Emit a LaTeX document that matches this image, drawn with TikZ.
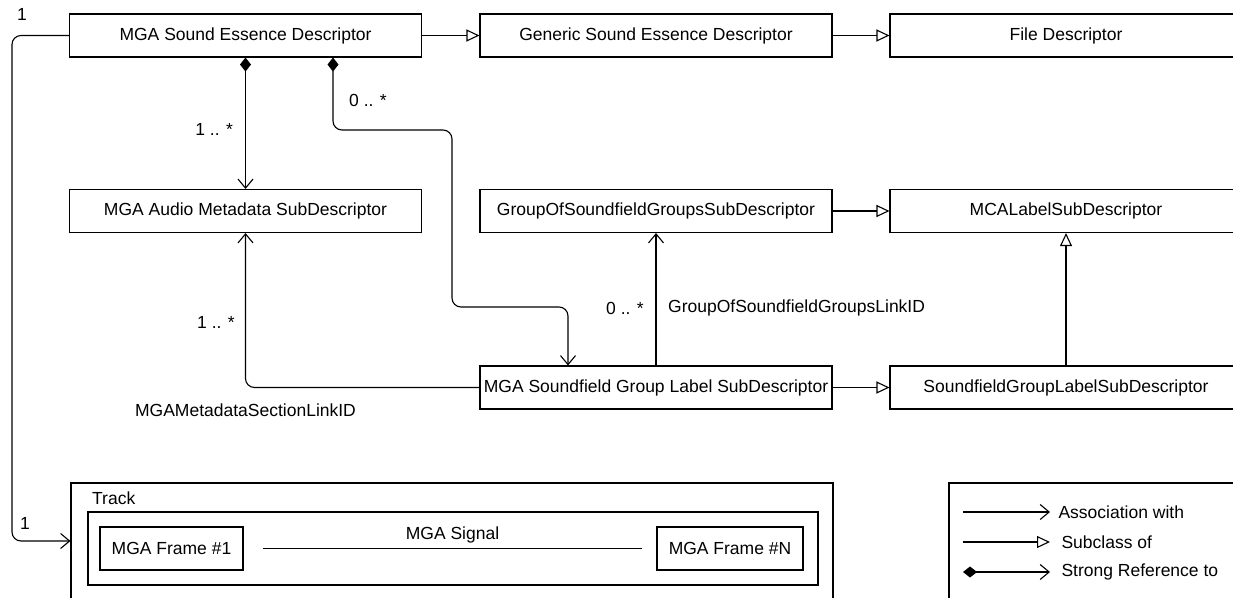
\documentclass[tikz,border=0pt]{standalone}
\usepackage{fontspec}
\setmainfont{Liberation Sans}
\usetikzlibrary{positioning,calc,arrows.meta}
\definecolor{umlline}{HTML}{000000}

\begin{document}
\begin{tikzpicture}[x=1pt, y=-1pt,
  block/.style={rectangle, draw=umlline, line width=1.1pt, minimum width=352pt, minimum height=43pt, inner sep=0pt, font=\fontsize{17.5}{20}\selectfont},
  lbl/.style={inner sep=0pt, font=\fontsize{17.5}{20}\selectfont},
  assoc/.style={-{Straight Barb[length=9pt,width=15pt]}, line width=1.1pt, color=umlline, rounded corners=9pt},
  subcls/.style={-{Triangle[open,length=13pt,width=12pt,fill=white]}, line width=1.1pt, color=umlline},
  strongref/.style={{Diamond[length=14pt,width=11pt]}-{Straight Barb[length=9pt,width=15pt]}, line width=1.1pt, color=umlline, rounded corners=9pt}
]
\useasboundingbox (0,0) rectangle (1233,597);
\clip (0,0) rectangle (1233,597);

\node[block] (essence) at (245.5,35.5) {MGA Sound Essence Descriptor};
\node[block] (generic) at (656,35.5) {Generic Sound Essence Descriptor};
\node[block] (filedesc) at (1066,35.5) {File Descriptor};
\node[block] (audiometa) at (245.5,211) {MGA Audio Metadata SubDescriptor};
\node[block] (gofsg) at (656,211) {GroupOfSoundfieldGroupsSubDescriptor};
\node[block] (mcalabel) at (1066,211) {MCALabelSubDescriptor};
\node[block] (sgl) at (656,387.5) {MGA Soundfield Group Label SubDescriptor};
\node[block] (sglsub) at (1066,387.5) {SoundfieldGroupLabelSubDescriptor};

% track with the signal
\node[block, minimum width=762pt, minimum height=130pt] (track) at (452,548) {};
\node[lbl, anchor=west] (tracklbl) at (92,498) {Track};
\node[block, minimum width=730pt, minimum height=73pt] (signal) at (453,548.5) {};
\node[block, minimum width=143pt] (frame1) at (171.5,548.5) {MGA Frame \#1};
\node[block, minimum width=146pt] (frameN) at (730,548.5) {MGA Frame \#N};
\draw[line width=1.1pt] ([xshift=19pt]frame1.east) -- ([xshift=-14pt]frameN.west) node[lbl, midway, above=5pt] {MGA Signal};

\draw[subcls] (essence) -- (generic);
\draw[subcls] (generic) -- (filedesc);
\draw[subcls] (gofsg) -- (mcalabel);
\draw[subcls] (sgl) -- (sglsub);
\draw[subcls] (sglsub) -- (mcalabel);

\draw[assoc] (sgl) -- (gofsg);
\node[lbl, anchor=east] at (644,308) {0 .. *};
\node[lbl, anchor=west] at (668,308) {GroupOfSoundfieldGroupsLinkID};

\draw[strongref] (essence) -- (audiometa) node[lbl, pos=0.55, left=12pt] {1 .. *};
\draw[strongref] ([xshift=87.5pt]essence.south) |- (452,130) |- (568,307) -- ([xshift=-88pt]sgl.north);
\node[lbl] at (368,100) {0 .. *};

\draw[assoc] (sgl.west) -| (audiometa.south);
\node[lbl] at (216,322) {1 .. *};
\node[lbl] at (245.5,410) {MGAMetadataSectionLinkID};

\draw[assoc] (essence.west) -| (12,541) -- ([yshift=7pt]track.west);
\node[lbl] at (22,14) {1};
\node[lbl] at (25,523) {1};

% legend
\node[block, minimum width=301pt, minimum height=130pt] (legend) at (1099.5,548) {};
\coordinate (assocA) at (963,512);
\coordinate (assocB) at (1050,512);
\coordinate (subA) at (963,542);
\coordinate (subB) at (1050,542);
\coordinate (strongA) at (963,572);
\coordinate (strongB) at (1050,572);
\draw[assoc] (assocA) -- (assocB) node[lbl, right=8pt] {Association with};
\draw[subcls] (subA) -- (subB) node[lbl, right=11pt] {Subclass of};
\draw[strongref] (strongA) -- (strongB) node[lbl, right=11pt] {Strong Reference to};
\end{tikzpicture}
\end{document}
